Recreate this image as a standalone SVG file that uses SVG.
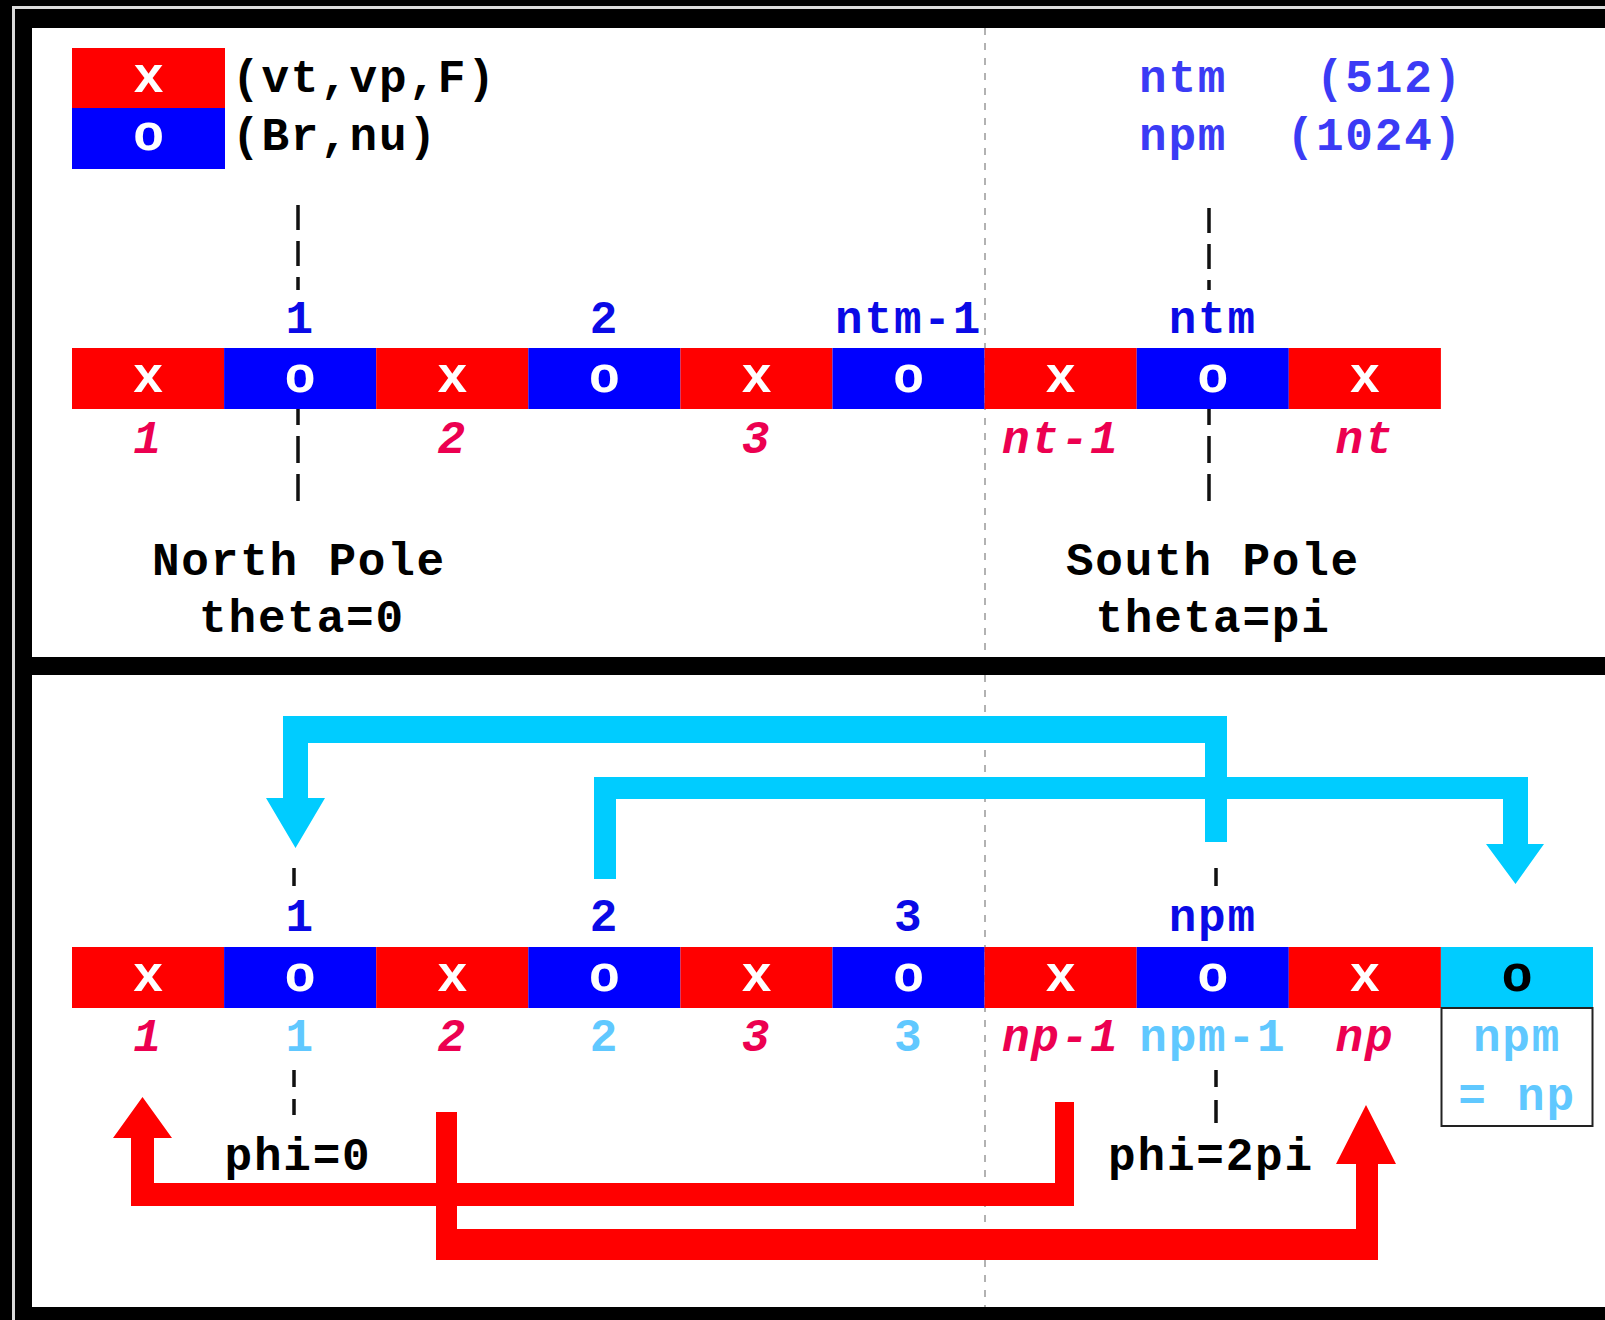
<svg xmlns="http://www.w3.org/2000/svg" width="1605" height="1320" viewBox="0 0 1605 1320">
  <style>
    .txt { font-family: 'Liberation Mono', 'Courier New', monospace; font-weight: bold; font-size: 46px; letter-spacing: 1.8px; }
    .mid { text-anchor: middle; }
    .end { text-anchor: end; }
    .it { font-style: italic; }
    .glyph { font-family: 'Liberation Mono', 'Courier New', monospace; font-weight: bold; font-size: 52px; text-anchor: middle; fill: #ffffff; }
    .red { fill: #ff0000; }
    .blue { fill: #0000ff; }
    .cyan { fill: #00ccff; }
    .idx { fill: #0a0ae6; }
    .dim { fill: #3b3bf5; }
    .rlab { fill: #ec0050; }
    .llab { fill: #60c8ff; }
    .blk { fill: #000000; }
    .tick { stroke: #111111; stroke-width: 3.5; fill: none; }
    .tickA { stroke-dasharray: 25 11; }
    .tickB { stroke-dasharray: 27 11; stroke-dashoffset: 11; }
  </style>

  <!-- frame -->
  <g id="frame">
    <rect x="0" y="0" width="1605" height="1320" fill="#000000"/>
    <path d="M13.5,1320 V7.5 H1605" fill="none" stroke="#dcdcdc" stroke-width="3"/>
    <rect x="32" y="28" width="1573" height="629" fill="#ffffff"/>
    <rect x="32" y="675" width="1573" height="632" fill="#ffffff"/>
    <line x1="985" y1="28" x2="985" y2="657" stroke="#999999" stroke-width="1.5" stroke-dasharray="7 8"/>
    <line x1="985" y1="675" x2="985" y2="1307" stroke="#999999" stroke-width="1.5" stroke-dasharray="7 8"/>
  </g>

  <!-- legend -->
  <g id="legend">
    <rect x="72" y="48" width="153" height="60" class="red"/>
    <rect x="72" y="108" width="153" height="61" class="blue"/>
    <text x="148.5" y="92" class="glyph">x</text>
    <text x="148.5" y="150" class="glyph">o</text>
    <text x="232" y="92" class="txt blk">(vt,vp,F)</text>
    <text x="232" y="150" class="txt blk">(Br,nu)</text>
    <text x="1139" y="92" class="txt dim">ntm</text>
    <text x="1463" y="92" class="txt dim end">(512)</text>
    <text x="1139" y="150" class="txt dim">npm</text>
    <text x="1463" y="150" class="txt dim end">(1024)</text>
  </g>

  <!-- theta grid -->
  <g id="theta-grid">
    <g id="t1"><rect x="72" y="348" width="152.1" height="61" class="red"/><text x="148" y="392" class="glyph">x</text></g>
    <g id="t2"><rect x="224.1" y="348" width="152.1" height="61" class="blue"/><text x="300.2" y="392" class="glyph">o</text></g>
    <g id="t3"><rect x="376.2" y="348" width="152.1" height="61" class="red"/><text x="452.3" y="392" class="glyph">x</text></g>
    <g id="t4"><rect x="528.3" y="348" width="152.1" height="61" class="blue"/><text x="604.4" y="392" class="glyph">o</text></g>
    <g id="t5"><rect x="680.4" y="348" width="152.1" height="61" class="red"/><text x="756.5" y="392" class="glyph">x</text></g>
    <g id="t6"><rect x="832.5" y="348" width="152.1" height="61" class="blue"/><text x="908.6" y="392" class="glyph">o</text></g>
    <g id="t7"><rect x="984.6" y="348" width="152.1" height="61" class="red"/><text x="1060.7" y="392" class="glyph">x</text></g>
    <g id="t8"><rect x="1136.7" y="348" width="152.1" height="61" class="blue"/><text x="1212.8" y="392" class="glyph">o</text></g>
    <g id="t9"><rect x="1288.8" y="348" width="152.1" height="61" class="red"/><text x="1364.9" y="392" class="glyph">x</text></g>
  </g>

  <g id="theta-labels">
    <text x="300.2" y="333" class="txt mid idx">1</text>
    <text x="604.4" y="333" class="txt mid idx">2</text>
    <text x="908.6" y="333" class="txt mid idx">ntm-1</text>
    <text x="1212.8" y="333" class="txt mid idx">ntm</text>
    <text x="148" y="453" class="txt mid it rlab">1</text>
    <text x="452.3" y="453" class="txt mid it rlab">2</text>
    <text x="756.5" y="453" class="txt mid it rlab">3</text>
    <text x="1060.7" y="453" class="txt mid it rlab">nt-1</text>
    <text x="1364.9" y="453" class="txt mid it rlab">nt</text>
    <text x="299" y="575" class="txt mid blk">North Pole</text>
    <text x="302" y="632" class="txt mid blk">theta=0</text>
    <text x="1213" y="575" class="txt mid blk">South Pole</text>
    <text x="1213" y="632" class="txt mid blk">theta=pi</text>
  </g>

  <!-- phi grid -->
  <g id="phi-grid">
    <g id="p1"><rect x="72" y="947" width="152.1" height="61" class="red"/><text x="148" y="991" class="glyph">x</text></g>
    <g id="p2"><rect x="224.1" y="947" width="152.1" height="61" class="blue"/><text x="300.2" y="991" class="glyph">o</text></g>
    <g id="p3"><rect x="376.2" y="947" width="152.1" height="61" class="red"/><text x="452.3" y="991" class="glyph">x</text></g>
    <g id="p4"><rect x="528.3" y="947" width="152.1" height="61" class="blue"/><text x="604.4" y="991" class="glyph">o</text></g>
    <g id="p5"><rect x="680.4" y="947" width="152.1" height="61" class="red"/><text x="756.5" y="991" class="glyph">x</text></g>
    <g id="p6"><rect x="832.5" y="947" width="152.1" height="61" class="blue"/><text x="908.6" y="991" class="glyph">o</text></g>
    <g id="p7"><rect x="984.6" y="947" width="152.1" height="61" class="red"/><text x="1060.7" y="991" class="glyph">x</text></g>
    <g id="p8"><rect x="1136.7" y="947" width="152.1" height="61" class="blue"/><text x="1212.8" y="991" class="glyph">o</text></g>
    <g id="p9"><rect x="1288.8" y="947" width="152.1" height="61" class="red"/><text x="1364.9" y="991" class="glyph">x</text></g>
    <g id="p10">
      <rect x="1440.9" y="947" width="152.1" height="61" class="cyan"/>
      <text x="1517" y="991" class="glyph" style="fill:#000000">o</text>
      <rect x="1441.5" y="1008" width="151" height="118" fill="none" stroke="#222222" stroke-width="2"/>
      <text x="1517" y="1051" class="txt mid llab">npm</text>
      <text x="1517" y="1110" class="txt mid llab">= np</text>
    </g>
  </g>

  <g id="phi-labels">
    <text x="300.2" y="931" class="txt mid idx">1</text>
    <text x="604.4" y="931" class="txt mid idx">2</text>
    <text x="908.6" y="931" class="txt mid idx">3</text>
    <text x="1212.8" y="931" class="txt mid idx">npm</text>
    <text x="148" y="1051" class="txt mid it rlab">1</text>
    <text x="452.3" y="1051" class="txt mid it rlab">2</text>
    <text x="756.5" y="1051" class="txt mid it rlab">3</text>
    <text x="1060.7" y="1051" class="txt mid it rlab">np-1</text>
    <text x="1364.9" y="1051" class="txt mid it rlab">np</text>
    <text x="300.2" y="1051" class="txt mid llab">1</text>
    <text x="604.4" y="1051" class="txt mid llab">2</text>
    <text x="908.6" y="1051" class="txt mid llab">3</text>
    <text x="1212.8" y="1051" class="txt mid llab">npm-1</text>
    <text x="298" y="1170" class="txt mid blk">phi=0</text>
    <text x="1211" y="1170" class="txt mid blk">phi=2pi</text>
  </g>

  <!-- pole / seam markers -->
  <g id="markers">
    <path d="M298,205 V290" class="tick tickA"/>
    <path d="M298,409 V502" class="tick tickB"/>
    <path d="M1209,208 V290" class="tick tickA"/>
    <path d="M1209,409 V507" class="tick tickB"/>
    <path d="M294,868 V886 M294,1070 V1087 M294,1099 V1115" class="tick"/>
    <path d="M1216,868 V886 M1216,1070 V1087 M1216,1100 V1123" class="tick"/>
  </g>

  <!-- periodic copy connectors -->
  <g id="connectors">
    <path id="copy-npm-to-1" class="cyan" d="M1227,716 H283 V798 H266 L295.5,848 L325,798 H308 V743 H1205 V842 H1227 Z"/>
    <path id="copy-2-to-npm1" class="cyan" d="M594,879 V777 H1528 V844 H1544 L1515.5,884 L1486,844 H1503 V799 H616 V879 Z"/>
    <path id="copy-np1-to-1" class="red" d="M1074,1102 V1206 H131 V1138 H113 L142.5,1097 L172,1138 H154 V1183 H1055 V1102 Z"/>
    <path id="copy-2-to-np" class="red" d="M436,1112 H457 V1229 H1356 V1164 H1336 L1366,1105 L1396,1164 H1378 V1260 H436 Z"/>
  </g>
</svg>
